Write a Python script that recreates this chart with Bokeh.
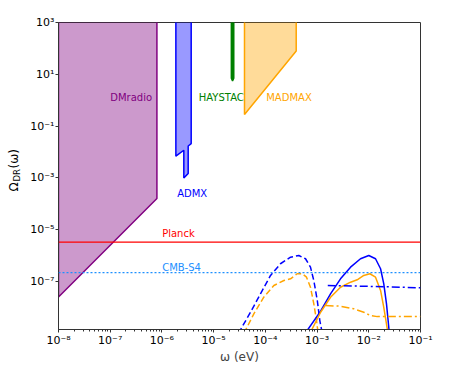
from bokeh.plotting import figure
from bokeh.layouts import row
from bokeh.models import Range1d, FixedTicker, Label, Span
from bokeh.core.properties import value
from bokeh.embed import file_html
from bokeh.resources import INLINE
import math

# ---- data ----
dmradio_x = [1e-8, 8e-7, 8e-7, 1e-8]
dmradio_y = [2.5e-8, 1.6e-4, 1e4, 1e4]
admx_x = [1.86e-6, 1.86e-6, 2.65e-6, 2.65e-6, 3.22e-6, 3.22e-6, 3.68e-6, 3.68e-6]
admx_y = [1e4, 6.9e-3, 1.17e-2, 9.9e-4, 1.47e-3, 1.71e-2, 2.12e-2, 1e4]
haystac_x = [2.2e-5, 2.2e-5, 2.32e-5, 2.45e-5, 2.45e-5]
haystac_y = [1e4, 7.0, 5.5, 7.0, 1e4]
madmax_x = [3.95e-5, 3.95e-5, 3.95e-4, 3.95e-4]
madmax_y = [1e4, 0.28, 79.0, 1e4]

blue_dashed_x = [3.02e-5, 5.16e-5, 8.05e-5, 1.26e-4, 1.96e-4, 3.07e-4, 4.44e-4, 5.98e-4, 7.46e-4, 8.65e-4, 1.01e-3, 1.13e-3, 1.26e-3]
blue_dashed_y = [1e-9, 6.5e-9, 3.34e-8, 1.71e-7, 4.84e-7, 8.7e-7, 1.01e-6, 7.55e-7, 3.57e-7, 1.09e-7, 1.84e-8, 3.1e-9, 1e-9]
orange_dashed_x = [3.86e-5, 5.98e-5, 9.33e-5, 1.46e-4, 2.28e-4, 3.07e-4, 4.13e-4, 5.16e-4, 6.25e-4, 7.46e-4, 8.65e-4, 9.75e-4, 1.05e-3]
orange_dashed_y = [1e-9, 5.6e-9, 2.47e-8, 7.0e-8, 1.09e-7, 1.27e-7, 1.99e-7, 1.99e-7, 1.47e-7, 6.0e-8, 1.37e-8, 3.1e-9, 1e-9]
blue_solid_x = [5.9e-4, 1.17e-3, 1.82e-3, 2.84e-3, 4.44e-3, 6.92e-3, 1.0e-2, 1.35e-2, 1.69e-2, 1.95e-2, 2.2e-2, 2.5e-2]
blue_solid_y = [1e-9, 7.1e-9, 3.34e-8, 1.27e-7, 3.57e-7, 7.55e-7, 1.01e-6, 7.55e-7, 3.1e-7, 8.1e-8, 1.37e-8, 1e-9]
orange_solid_x = [7.3e-4, 1.17e-3, 1.82e-3, 2.84e-3, 4.44e-3, 5.97e-3, 8.0e-3, 1.05e-2, 1.35e-2, 1.69e-2, 1.95e-2, 2.35e-2]
orange_solid_y = [1e-9, 6.5e-9, 2.47e-8, 6.0e-8, 9.4e-8, 1.16e-7, 1.71e-7, 1.99e-7, 1.47e-7, 4.5e-8, 1.01e-8, 1e-9]
blue_dashdot_x = [1.61e-3, 6.92e-3, 2.63e-2, 1e-1]
blue_dashdot_y = [7.0e-8, 6.6e-8, 6.2e-8, 5.7e-8]
orange_dashdot_x = [1.46e-3, 2.84e-3, 5.14e-3, 8.0e-3, 1.08e-2, 1.46e-2, 1e-1]
orange_dashdot_y = [1.18e-8, 1.11e-8, 8.8e-9, 6.5e-9, 4.8e-9, 4.4e-9, 4.4e-9]

planck_level = 3.3e-6
cmbs4_level = 2.2e-7

x_ticks = [1e-8, 1e-7, 1e-6, 1e-5, 1e-4, 1e-3, 1e-2, 1e-1]
x_tick_labels = ["10⁻⁸", "10⁻⁷", "10⁻⁶", "10⁻⁵", "10⁻⁴", "10⁻³", "10⁻²", "10⁻¹"]
y_ticks = [1e-7, 1e-5, 1e-3, 1e-1, 1e1, 1e3]
y_tick_labels = ["10⁻⁷", "10⁻⁵", "10⁻³", "10⁻¹", "10¹", "10³"]
x_minor = [m * t for t in x_ticks[:-1] for m in range(2, 10)]

FONT = "DejaVu Sans"

p = figure(frame_width=362, frame_height=307, x_axis_type="log", y_axis_type="log",
           x_range=Range1d(1e-8, 1e-1), y_range=Range1d(1.4e-9, 1e3),
           output_backend="svg", toolbar_location=None,
           min_border_left=36, min_border_top=22, min_border_right=44, min_border_bottom=41)
p.grid.visible = False
p.outline_line_color = "#333333"
p.outline_line_width = 1
p.background_fill_color = "white"
p.border_fill_color = "white"

# patches
p.patch(dmradio_x, dmradio_y, fill_color="purple", fill_alpha=0.4, line_color="purple", line_width=1.5)
p.patch(admx_x, admx_y, fill_color="blue", fill_alpha=0.4, line_color="blue", line_width=1.5)
p.patch(haystac_x, haystac_y, fill_color="green", fill_alpha=1.0, line_color="green", line_width=1.5)
p.patch(madmax_x, madmax_y, fill_color="orange", fill_alpha=0.4, line_color="orange", line_width=1.5)

# horizontal limits
p.add_layout(Span(location=planck_level, dimension="width", line_color="red", line_width=1.3))
p.add_layout(Span(location=cmbs4_level, dimension="width", line_color="dodgerblue", line_width=1.3, line_dash="2 2"))

# curves
p.line(blue_dashed_x, blue_dashed_y, line_color="blue", line_width=1.5, line_dash="6 3")
p.line(orange_dashed_x, orange_dashed_y, line_color="orange", line_width=1.5, line_dash="6 3")
p.line(blue_solid_x, blue_solid_y, line_color="blue", line_width=1.5)
p.line(orange_solid_x, orange_solid_y, line_color="orange", line_width=1.5)
p.line(blue_dashdot_x, blue_dashdot_y, line_color="blue", line_width=1.5, line_dash="8 3 2 3")
p.line(orange_dashdot_x, orange_dashdot_y, line_color="orange", line_width=1.5, line_dash="8 3 2 3")

# text labels
def add_text(x, y, txt, color):
    p.add_layout(Label(x=x, y=y, text=txt, text_color=color, text_font=FONT,
                       text_font_size="10px", text_align="left", text_baseline="middle"))

add_text(1.0e-7, 1.3, "DMradio", "purple")
add_text(1.97e-6, 2.47e-4, "ADMX", "blue")
add_text(5.16e-6, 1.3, "HAYSTAC", "green")
add_text(1.04e-4, 1.3, "MADMAX", "orange")
add_text(1.01e-6, 7.4e-6, "Planck", "red")
add_text(1.01e-6, 3.6e-7, "CMB-S4", "dodgerblue")

# axes
for ax in (p.xaxis[0], p.yaxis[0]):
    ax.axis_line_color = "#333333"
    ax.major_tick_line_color = "#333333"
    ax.minor_tick_line_color = "#333333"
    ax.major_tick_in = 0
    ax.major_tick_out = 3
    ax.minor_tick_in = 0
    ax.minor_tick_out = 2
    ax.major_label_text_font = FONT
    ax.major_label_text_font_size = "11px"
    ax.major_label_text_color = "black"
    ax.major_label_standoff = 1

p.xaxis.ticker = FixedTicker(ticks=x_ticks, minor_ticks=x_minor)
p.xaxis.major_label_overrides = dict(zip(x_ticks, x_tick_labels))
p.yaxis.ticker = FixedTicker(ticks=y_ticks, minor_ticks=[])
p.yaxis.major_label_overrides = dict(zip(y_ticks, y_tick_labels))

p.xaxis.axis_label = "ω (eV)"
p.xaxis.axis_label_text_font = FONT
p.xaxis.axis_label_text_font_size = "12px"
p.xaxis.axis_label_text_font_style = "normal"
p.xaxis.axis_label_standoff = 0

# y-axis title: a narrow panel holding Omega, subscript DR and (omega), rotated
lab = figure(frame_width=22, frame_height=370, x_range=Range1d(0, 22), y_range=Range1d(0, 370),
             output_backend="svg", toolbar_location=None,
             min_border_left=0, min_border_right=0, min_border_top=0, min_border_bottom=0)
lab.axis.visible = False
lab.grid.visible = False
lab.outline_line_color = None
lab.border_fill_color = "white"
lab.text(x=[13], y=[201], text=["Ω"], angle=math.pi/2, text_font=value(FONT),
         text_font_size="12px", text_align="left", text_baseline="middle", text_color="black")
lab.text(x=[16], y=[211], text=["DR"], angle=math.pi/2, text_font=value(FONT),
         text_font_size="8.5px", text_align="left", text_baseline="middle", text_color="black")
lab.text(x=[13], y=[224], text=["(ω)"], angle=math.pi/2, text_font=value(FONT),
         text_font_size="12px", text_align="left", text_baseline="middle", text_color="black")

layout = row(lab, p, spacing=0)
open("out.html", "w").write(file_html(layout, INLINE))
